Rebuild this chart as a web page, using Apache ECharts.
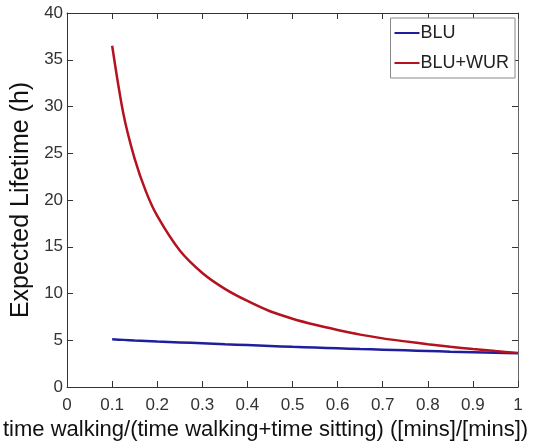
<!DOCTYPE html>
<html>
<head>
<meta charset="utf-8">
<script src="https://cdn.jsdelivr.net/npm/echarts@6/dist/echarts.min.js"></script>
<style>
  html, body { margin: 0; padding: 0; background: #fff; }
  #chart { width: 536px; height: 448px; }
</style>
</head>
<body>
<div id="chart"></div>
<script>
// walking fraction (x) and expected lifetime in hours
const xVals = [0.1, 0.125, 0.15, 0.175, 0.2, 0.25, 0.3, 0.35, 0.4, 0.45, 0.5,
    0.55, 0.6, 0.65, 0.7, 0.75, 0.8, 0.85, 0.9, 0.95, 1.0]
const bluVals = [5.10, 5.04, 4.98, 4.93, 4.87, 4.77, 4.67, 4.57, 4.48, 4.39, 4.30,
    4.22, 4.14, 4.06, 3.99, 3.92, 3.85, 3.78, 3.72, 3.66, 3.60]
const wurVals = [36.5, 29.2, 24.4, 20.9, 18.3, 14.6, 12.2, 10.5, 9.2, 8.1, 7.3,
    6.65, 6.1, 5.6, 5.2, 4.88, 4.57, 4.3, 4.06, 3.84, 3.65]
const seriesNames = ['BLU', 'BLU+WUR']
const xTitle = 'time walking/(time walking+time sitting) ([mins]/[mins])'
const yTitle = 'Expected Lifetime (h)'

const font = 'Liberation Sans, Arial, Helvetica, sans-serif'
const chart = echarts.init(document.getElementById('chart'), null, { renderer: 'canvas' })

function pairs(vals) {
    return xVals.map(function (x, i) { return [x, vals[i]] })
}

// box-style axis (matlab look): ticks inside on all four sides
function boxAxis(pos, extra) {
    return Object.assign({
        type: 'value',
        position: pos,
        axisLine: { show: true, onZero: false, lineStyle: { color: '#333', width: 1 } },
        axisTick: { show: true, inside: true, length: 6, lineStyle: { color: '#333' } },
        axisLabel: { show: false },
        splitLine: { show: false }
    }, extra)
}

const option = {
    animation: false,
    backgroundColor: '#fff',
    color: ['#1f1f9e', '#b3121e'],
    grid: { left: 59, right: 18, top: 13, bottom: 61 },
    legend: {
        data: seriesNames,
        orient: 'vertical',
        right: 21,
        top: 18,
        icon: 'rect',
        itemWidth: 25,
        itemHeight: 2,
        itemGap: 12,
        padding: [6, 6, 6, 4],
        borderColor: '#888',
        borderWidth: 1,
        backgroundColor: '#fff',
        textStyle: { fontSize: 18, color: '#222', fontFamily: font, padding: [0, 0, 0, -4] }
    },
    xAxis: [
        boxAxis('bottom', {
            min: 0, max: 1, interval: 0.1,
            axisLabel: { show: true, fontSize: 17, color: '#333', margin: 10, fontFamily: font },
            name: xTitle,
            nameLocation: 'middle',
            nameGap: 25,
            nameTextStyle: { fontSize: 22, color: '#111', fontFamily: font, padding: [0, 54, 0, 0] }
        }),
        boxAxis('top', { min: 0, max: 1, interval: 0.1 })
    ],
    yAxis: [
        boxAxis('left', {
            min: 0, max: 40, interval: 5,
            axisLabel: { show: true, fontSize: 17, color: '#333', margin: 4, fontFamily: font },
            name: yTitle,
            nameLocation: 'middle',
            nameGap: 25,
            nameTextStyle: { fontSize: 25, color: '#111', fontFamily: font }
        }),
        boxAxis('right', {
            min: 0, max: 40, interval: 5,
            axisLine: { show: true, onZero: false, lineStyle: { color: '#666', width: 1 } }
        })
    ],
    series: [
        {
            name: seriesNames[0],
            type: 'line',
            data: pairs(bluVals),
            showSymbol: false,
            symbol: 'none',
            smooth: 0.3,
            lineStyle: { width: 2.5 }
        },
        {
            name: seriesNames[1],
            type: 'line',
            data: pairs(wurVals),
            showSymbol: false,
            symbol: 'none',
            smooth: 0.3,
            lineStyle: { width: 2.5 }
        }
    ]
}
chart.setOption(option)
</script>
</body>
</html>
